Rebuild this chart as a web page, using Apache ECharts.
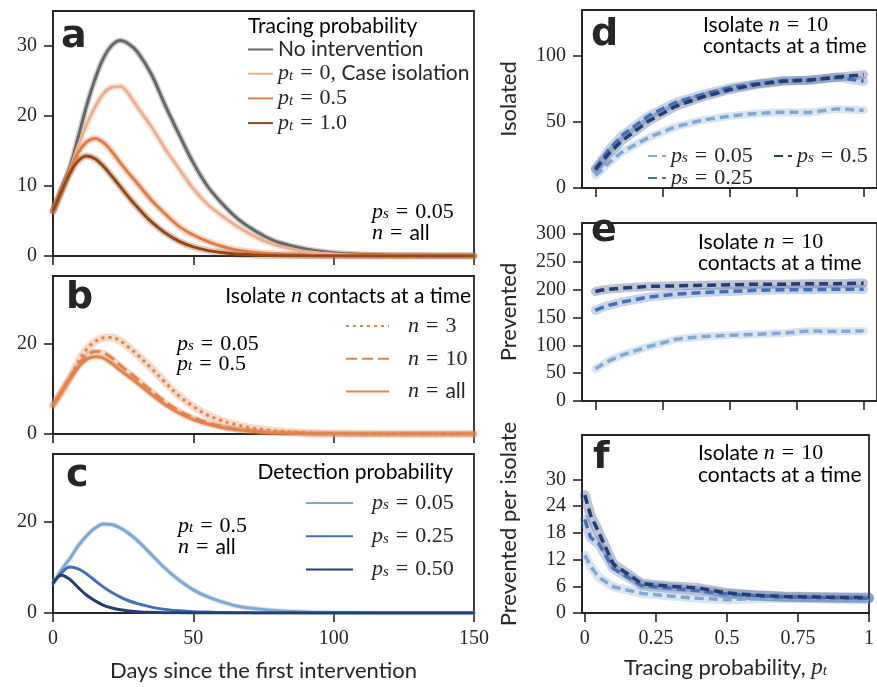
<!DOCTYPE html>
<html><head><meta charset="utf-8">
<script src="https://cdn.jsdelivr.net/npm/echarts@6/dist/echarts.min.js"></script>
<style>html,body{margin:0;padding:0;background:#fff}#c{width:877px;height:687px}</style>
</head><body><div id="c"></div>
<script>
// ---------- data ----------
const days = [0,3,6,9,12,15,18,21,24,27,30,35,40,45,50,55,60,65,70,75,80,90,100,110,120,135,150];
// panel a
const aNoIntervention = [6.4,9.5,12.6,17.0,21.5,25.3,28.3,30.1,30.8,30.3,29.2,26.0,21.5,17.3,13.3,10.0,7.6,5.6,4.1,2.9,2.0,1.0,0.45,0.2,0.1,0.03,0.01];
const aPt0 = [6.4,9.3,12.3,15.8,18.8,21.3,23.2,24.1,24.2,23.1,21.3,18.5,15.3,12.4,9.6,7.4,5.8,4.4,3.2,2.2,1.5,0.65,0.3,0.12,0.05,0.01,0];
const aPt05 = [6.4,9.3,12.2,14.8,16.3,16.8,16.2,14.9,13.3,11.8,10.4,8.0,6.0,4.2,3.0,2.1,1.4,0.9,0.6,0.4,0.25,0.1,0.04,0.02,0.01,0,0];
const aPt1 = [6.4,9.2,11.8,13.6,14.3,13.9,12.8,11.4,9.9,8.4,7.0,4.9,3.3,2.1,1.3,0.8,0.5,0.3,0.2,0.12,0.08,0.03,0.01,0,0,0,0];
// panel b
const bN3 = [6.4,9.3,12.4,16.0,18.8,20.5,21.3,21.4,20.6,19.2,17.6,14.6,11.4,8.4,6.1,4.2,3.0,2.1,1.4,1.0,0.65,0.3,0.12,0.05,0.02,0,0];
const bN10 = [6.4,9.3,12.4,15.2,17.4,18.3,18.0,16.8,15.2,13.7,12.2,9.6,7.1,5.1,3.6,2.5,1.7,1.1,0.7,0.45,0.3,0.12,0.05,0.02,0,0,0];
const bNall = [6.4,9.3,12.2,14.8,16.5,17.1,16.8,15.6,14.1,12.7,11.3,8.8,6.5,4.6,3.2,2.2,1.5,1.0,0.65,0.4,0.25,0.1,0.04,0.02,0,0,0];
// panel c
const cPs005 = [6.5,9.5,12.0,14.8,17.0,18.7,19.6,19.5,18.7,17.5,16.0,12.9,9.8,7.2,5.1,3.6,2.5,1.6,1.1,0.75,0.5,0.2,0.08,0.03,0.01,0,0];
const cPs025 = [6.5,8.8,10.1,9.7,8.6,7.1,5.7,4.5,3.5,2.7,2.1,1.3,0.8,0.5,0.3,0.2,0.1,0.06,0.03,0,0,0,0,0,0,0,0];
const cPs05 = [6.5,8.3,7.4,5.6,3.9,2.7,1.7,1.1,0.7,0.45,0.3,0.15,0.07,0.03,0.01,0,0,0,0,0,0,0,0,0,0,0,0];
// panels d-f
const tracingProb = [0,0.02,0.05,0.1,0.2,0.3,0.4,0.5,0.6,0.7,0.8,0.9,1.0];
const dPs005 = [9.5,13,19,27.5,38.5,46.5,51.5,54.5,56.5,57.5,57.3,60,59];
const dPs025 = [15,20,29,40,55,65,71,76,79,81.5,81.5,84,81];
const dPs05 = [14,19,26,36,51,62,69,74.5,78.5,81,82,84,86];
const ePs005 = [58,64,72,83,98,111,116,118,120,122,126,125,126];
const ePs025 = [163,167,172,178,187,192,195,197,199,200,200,201,201];
const ePs05 = [197,199,201,203,206,207,208,209,210,210,211,211,212];
const fPs005 = [13,10.5,8,5.9,4.4,3.8,3.3,3.0,3.2,3.3,3.2,3.0,3.0];
const fPs025 = [21,17,15.5,10,6.2,5.6,5.0,4.3,3.9,3.6,3.5,3.4,3.3];
const fPs05 = [26.5,22,18,11,6.6,6.0,5.6,4.5,4.0,3.7,3.6,3.5,3.5];
// ticks
const dayTicks = [0,50,100,150];
const ptTicks = [0,0.25,0.5,0.75,1];
const aYTicks = [0,10,20,30];
const bcYTicks = [0,20];
const dYTicks = [0,50,100];
const eYTicks = [0,50,100,150,200,250,300];
const fYTicks = [0,6,12,18,24,30];

// ---------- styles ----------
const INK = '#262626';
const SERIF = 'Liberation Serif';
const SANS = 'Lato';
const C = {
  gray:'#686868', pt0:'#ebb18f', pt05:'#df7c47', pt1:'#974819', orange:'#e0834f',
  b1:'#80a8d2', b2:'#456fb5', b3:'#233d74'
};
const rich = {
  i:{fontFamily:SERIF,fontStyle:'italic',fontSize:22,color:INK,lineHeight:20},
  s:{fontFamily:SERIF,fontStyle:'italic',fontSize:15,color:INK,lineHeight:10,verticalAlign:'bottom'},
  r:{fontFamily:SERIF,fontSize:22,color:INK,lineHeight:20},
  e:{fontFamily:SERIF,fontSize:22,color:INK,lineHeight:20,padding:[0,7,0,7]},
  t:{fontFamily:SANS,fontSize:21,color:INK,lineHeight:20},
  gi:{fontFamily:SERIF,fontStyle:'italic',fontSize:22,color:INK,lineHeight:20,padding:[0,0,0,14]}
};

const pairs = (xs, ys) => xs.map((x,i)=>[x, ys[i]]);

function mkLine(name, gi, xs, ys, color, o) {
  o = o || {};
  return {
    type:'line', name, xAxisIndex:gi, yAxisIndex:gi, data:pairs(xs,ys),
    showSymbol:false, symbol:'none', smooth:o.smooth===undefined?0.35:o.smooth,
    lineStyle:{color, width:o.width||3, type:o.type||'solid', cap:'butt'},
    itemStyle:{color}, silent:true
  };
}
function mkBand(name, gi, xs, ys, color, o) {
  o = o || {};
  return {
    type:'line', name, xAxisIndex:gi, yAxisIndex:gi, data:pairs(xs,ys),
    showSymbol:false, symbol:'none', smooth:o.smooth===undefined?0.35:o.smooth,
    lineStyle:{color, width:o.width||8, opacity:o.opacity||0.3, cap:'round', join:'round'},
    silent:true
  };
}

const grids = [
  {left:53, top:11, width:421, height:245},
  {left:53, top:276, width:421, height:158},
  {left:53, top:454, width:421, height:159},
  {left:582, top:10, width:295, height:178},
  {left:582, top:223, width:295, height:178},
  {left:582, top:435, width:296, height:178}
].map(g=>Object.assign(g,{show:true,borderColor:INK,borderWidth:1.8}));

const lab = {fontFamily:SERIF, fontSize:20, color:INK, margin:16};
function tk(vals){ return {show:true, length:9, customValues:vals, lineStyle:{color:INK, width:1.6}}; }

// axis carrying labels (ticks drawn by a companion tick axis)
function ax(gi, min, max, ticks, pos, extra) {
  return Object.assign({type:'value', gridIndex:gi, min, max, position:pos,
    axisLine:{show:true, onZero:false, lineStyle:{color:INK, width:1.8}},
    axisTick:{show:false}, splitLine:{show:false},
    axisLabel:Object.assign({customValues:ticks}, lab)}, extra||{});
}
// companion axis that only draws tick marks
function tickAx(gi, min, max, ticks, pos) {
  return {type:'value', gridIndex:gi, min, max, position:pos,
    axisLine:{show:false, onZero:false}, axisTick:tk(ticks),
    axisLabel:{show:false, customValues:ticks}, splitLine:{show:false}};
}
const xAxes = [
  tickAx(0,0,150,dayTicks,'bottom'),
  tickAx(1,0,150,dayTicks,'bottom'),
  ax(2,0,150,dayTicks,'bottom',{name:'Days since the first intervention', nameLocation:'middle', nameGap:47,
    nameTextStyle:{fontFamily:SANS, fontSize:22, color:INK}}),
  tickAx(3,-0.05,1.05,ptTicks,'bottom'),
  tickAx(4,-0.05,1.05,ptTicks,'bottom'),
  ax(5,-0.01,1.0,ptTicks,'bottom',{
    axisLabel:Object.assign({customValues:ptTicks, formatter:v=>String(v)}, lab),
    name:'{t|Tracing probability, }{i|p}{s|t}', nameLocation:'middle', nameGap:44,
    nameTextStyle:{rich:{t:{fontFamily:SANS,fontSize:22,color:INK,lineHeight:22},
      i:{fontFamily:SERIF,fontStyle:'italic',fontSize:23,color:INK,lineHeight:22},
      s:{fontFamily:SERIF,fontStyle:'italic',fontSize:15,color:INK,lineHeight:12,verticalAlign:'bottom'}}}}),
  // tick companions for labelled x axes
  tickAx(2,0,150,dayTicks,'bottom'),
  tickAx(5,-0.01,1.0,ptTicks,'bottom')
];
const yName = {nameLocation:'middle', nameGap:62, nameTextStyle:{fontFamily:SANS, fontSize:22, color:INK}};
const yAxes = [
  ax(0,0,35,aYTicks,'left'),
  ax(1,0,35,bcYTicks,'left'),
  ax(2,0,35,bcYTicks,'left'),
  ax(3,0,135,dYTicks,'left',Object.assign({name:'Isolated'}, yName)),
  ax(4,0,320,eYTicks,'left',Object.assign({name:'Prevented'}, yName)),
  ax(5,0,40,fYTicks,'left',Object.assign({name:'Prevented per isolate'}, yName)),
  // tick companions
  tickAx(0,0,35,aYTicks,'left'),
  tickAx(1,0,35,bcYTicks,'left'),
  tickAx(2,0,35,bcYTicks,'left'),
  tickAx(3,0,135,dYTicks,'left'),
  tickAx(4,0,320,eYTicks,'left'),
  tickAx(5,0,40,fYTicks,'left')
];

const series = [
  mkBand('ba1',0,days,aNoIntervention,C.gray,{width:6}),
  mkBand('ba2',0,days,aPt0,C.pt0,{width:7}),
  mkBand('ba3',0,days,aPt05,C.pt05,{width:7}),
  mkBand('ba4',0,days,aPt1,C.pt1,{width:7}),
  mkLine('No intervention',0,days,aNoIntervention,C.gray),
  mkLine('pt0',0,days,aPt0,C.pt0),
  mkLine('pt05',0,days,aPt05,C.pt05),
  mkLine('pt1',0,days,aPt1,C.pt1),
  mkBand('bb1',1,days,bN3,C.orange,{width:8}),
  mkBand('bb2',1,days,bN10,C.orange,{width:6}),
  mkBand('bb3',1,days,bNall,C.orange,{width:6}),
  mkLine('n3',1,days,bN3,C.orange,{type:[3,4]}),
  mkLine('n10',1,days,bN10,C.orange,{type:[11,5]}),
  mkLine('nall',1,days,bNall,C.orange),
  mkBand('bc1',2,days,cPs005,C.b1,{width:5}),
  mkLine('c005',2,days,cPs005,C.b1),
  mkLine('c025',2,days,cPs025,C.b2),
  mkLine('c05',2,days,cPs05,C.b3),
  mkBand('bd1',3,tracingProb,dPs005,C.b1,{width:8,smooth:false}),
  mkBand('bd2',3,tracingProb,dPs025,C.b2,{width:9,smooth:false}),
  mkBand('bd3',3,tracingProb,dPs05,C.b3,{width:9,smooth:false}),
  mkLine('d005',3,tracingProb,dPs005,C.b1,{type:[9,5],smooth:false,width:3.5}),
  mkLine('d025',3,tracingProb,dPs025,C.b2,{type:[9,5],smooth:false,width:3.5}),
  mkLine('d05',3,tracingProb,dPs05,C.b3,{type:[9,5],smooth:false,width:3.5}),
  mkBand('be1',4,tracingProb,ePs005,C.b1,{width:8,smooth:false}),
  mkBand('be2',4,tracingProb,ePs025,C.b2,{width:9,smooth:false}),
  mkBand('be3',4,tracingProb,ePs05,C.b3,{width:9,smooth:false}),
  mkLine('e005',4,tracingProb,ePs005,C.b1,{type:[9,5],smooth:false,width:3.5}),
  mkLine('e025',4,tracingProb,ePs025,C.b2,{type:[9,5],smooth:false,width:3.5}),
  mkLine('e05',4,tracingProb,ePs05,C.b3,{type:[9,5],smooth:false,width:3.5}),
  mkBand('bf1',5,tracingProb,fPs005,C.b1,{width:9,smooth:false}),
  mkBand('bf2',5,tracingProb,fPs025,C.b2,{width:10,smooth:false}),
  mkBand('bf3',5,tracingProb,fPs05,C.b3,{width:10,smooth:false}),
  mkLine('f005',5,tracingProb,fPs005,C.b1,{type:[9,5],smooth:false,width:3.5}),
  mkLine('f025',5,tracingProb,fPs025,C.b2,{type:[9,5],smooth:false,width:3.5}),
  mkLine('f05',5,tracingProb,fPs05,C.b3,{type:[9,5],smooth:false,width:3.5})
];

const legendLabels = {
  'No intervention':'{t|No intervention}',
  'pt0':'{i|p}{s|t}{e|=}{r|0, }{t|Case isolation}',
  'pt05':'{i|p}{s|t}{e|=}{r|0.5}',
  'pt1':'{i|p}{s|t}{e|=}{r|1.0}',
  'n3':'{gi|n}{e|=}{r|3}', 'n10':'{gi|n}{e|=}{r|10}', 'nall':'{gi|n}{e|=}{t|all}',
  'c005':'{gi|p}{s|s}{e|=}{r|0.05}', 'c025':'{gi|p}{s|s}{e|=}{r|0.25}', 'c05':'{gi|p}{s|s}{e|=}{r|0.50}',
  'd005':'{i|p}{s|s}{e|=}{r|0.05}', 'd025':'{i|p}{s|s}{e|=}{r|0.25}', 'd05':'{i|p}{s|s}{e|=}{r|0.5}'
};
function mkLegend(data, left, top, itemWidth, itemGap) {
  return {data, left, top, orient:'vertical', itemWidth, itemHeight:14, itemGap, padding:0,
    selectedMode:false, formatter:n=>legendLabels[n], textStyle:{rich, lineHeight:20},
    itemStyle:{opacity:0, color:'rgba(0,0,0,0)', borderWidth:0}};
}
const legends = [
  mkLegend(['No intervention','pt0','pt05','pt1'], 247, 39, 25, 2.7),
  mkLegend(['n3','n10','nall'], 345, 315, 43, 10.8),
  mkLegend(['c005','c025','c05'], 305, 492, 47, 11.2),
  mkLegend(['d005','d025'], 647, 145, 18, 0),
  mkLegend(['d05'], 773, 145, 18, 0)
];

function txt(x, y, text, align) {
  return {type:'text', x, y, z:50, silent:true,
    style:{text, rich, align:align||'left', verticalAlign:'middle'}};
}
function letter(x, y, ch) {
  return {type:'text', x, y, z:50, silent:true,
    style:{text:ch, fontFamily:'DejaVu Sans', fontWeight:'bold', fontSize:38, fill:INK, align:'left', verticalAlign:'middle'}};
}
const graphic = [
  letter(61,37,'a'), letter(66,298,'b'), letter(66,476,'c'),
  letter(591,35,'d'), letter(591,231,'e'), letter(593,458,'f'),
  txt(248,26,'{t|Tracing probability}'),
  txt(372,212,'{i|p}{s|s}{e|=}{r|0.05}'),
  txt(372,233,'{i|n}{e|=}{t|all}'),
  txt(471,296,'{t|Isolate }{i|n}{t| contacts at a time}','right'),
  txt(177,344,'{i|p}{s|s}{e|=}{r|0.05}'),
  txt(177,364,'{i|p}{s|t}{e|=}{r|0.5}'),
  txt(453,472,'{t|Detection probability}','right'),
  txt(178,526,'{i|p}{s|t}{e|=}{r|0.5}'),
  txt(178,547,'{i|n}{e|=}{t|all}'),
  txt(703,25,'{t|Isolate }{i|n}{e|=}{r|10}'),
  txt(703,46,'{t|contacts at a time}'),
  txt(698,242,'{t|Isolate }{i|n}{e|=}{r|10}'),
  txt(698,263,'{t|contacts at a time}'),
  txt(698,453,'{t|Isolate }{i|n}{e|=}{r|10}'),
  txt(698,475,'{t|contacts at a time}')
];

const chart = echarts.init(document.getElementById('c'), null, {renderer:'canvas'});
chart.setOption({
  animation:false, backgroundColor:'#ffffff',
  grid:grids, xAxis:xAxes, yAxis:yAxes, series, legend:legends, graphic
});
</script></body></html>
